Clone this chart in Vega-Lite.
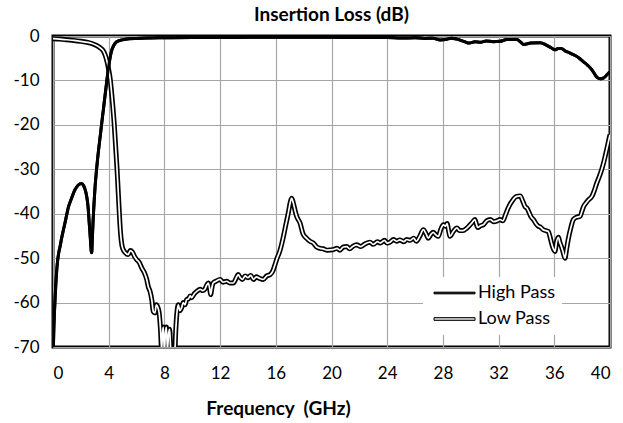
{
  "$schema": "https://vega.github.io/schema/vega-lite/v6.json",
  "width": 557,
  "height": 311,
  "autosize": {"type": "none"},
  "padding": {"left": 53, "top": 36, "right": 13, "bottom": 76},
  "background": "white",
  "title": {"text": "Insertion Loss (dB)", "font": "Lato", "fontSize": 19, "fontWeight": "bold", "color": "black", "anchor": "middle", "frame": "group", "offset": 2},
  "data": {"values": [
    {"s":"High Pass","f":0.02,"v":-71},{"s":"High Pass","f":0.06,"v":-66},{"s":"High Pass","f":0.1,"v":-62.5},{"s":"High Pass","f":0.15,"v":-59},{"s":"High Pass","f":0.2,"v":-56},{"s":"High Pass","f":0.3,"v":-51.5},{"s":"High Pass","f":0.4,"v":-49},{"s":"High Pass","f":0.5,"v":-47.5},{"s":"High Pass","f":0.62,"v":-45.5},{"s":"High Pass","f":0.75,"v":-43.6},{"s":"High Pass","f":0.9,"v":-41.5},{"s":"High Pass","f":1.0,"v":-40},{"s":"High Pass","f":1.1,"v":-38.6},{"s":"High Pass","f":1.3,"v":-36.8},{"s":"High Pass","f":1.58,"v":-34.6},{"s":"High Pass","f":1.8,"v":-33.6},{"s":"High Pass","f":2.05,"v":-33.2},{"s":"High Pass","f":2.2,"v":-33.7},{"s":"High Pass","f":2.33,"v":-34.8},{"s":"High Pass","f":2.42,"v":-36.1},{"s":"High Pass","f":2.52,"v":-38.5},{"s":"High Pass","f":2.6,"v":-42},{"s":"High Pass","f":2.68,"v":-45.5},{"s":"High Pass","f":2.75,"v":-48.5},{"s":"High Pass","f":2.78,"v":-48.8},{"s":"High Pass","f":2.82,"v":-46},{"s":"High Pass","f":2.88,"v":-41.5},{"s":"High Pass","f":2.95,"v":-37.5},{"s":"High Pass","f":3.02,"v":-34},{"s":"High Pass","f":3.1,"v":-31},{"s":"High Pass","f":3.25,"v":-26.3},{"s":"High Pass","f":3.4,"v":-22.3},{"s":"High Pass","f":3.5,"v":-19.6},{"s":"High Pass","f":3.62,"v":-16.5},{"s":"High Pass","f":3.73,"v":-13.6},{"s":"High Pass","f":3.83,"v":-11},{"s":"High Pass","f":3.93,"v":-8.4},{"s":"High Pass","f":4.05,"v":-5.8},{"s":"High Pass","f":4.2,"v":-3.4},{"s":"High Pass","f":4.35,"v":-2.2},{"s":"High Pass","f":4.57,"v":-1.3},{"s":"High Pass","f":4.85,"v":-0.95},{"s":"High Pass","f":5.2,"v":-0.75},{"s":"High Pass","f":6,"v":-0.55},{"s":"High Pass","f":7,"v":-0.45},{"s":"High Pass","f":8,"v":-0.4},{"s":"High Pass","f":10,"v":-0.35},{"s":"High Pass","f":12,"v":-0.35},{"s":"High Pass","f":14,"v":-0.3},{"s":"High Pass","f":16,"v":-0.3},{"s":"High Pass","f":18,"v":-0.3},{"s":"High Pass","f":20,"v":-0.3},{"s":"High Pass","f":22,"v":-0.35},{"s":"High Pass","f":24,"v":-0.35},{"s":"High Pass","f":25,"v":-0.45},{"s":"High Pass","f":26,"v":-0.4},{"s":"High Pass","f":26.7,"v":-0.55},{"s":"High Pass","f":27.3,"v":-0.5},{"s":"High Pass","f":27.8,"v":-0.9},{"s":"High Pass","f":28.2,"v":-0.8},{"s":"High Pass","f":28.6,"v":-0.5},{"s":"High Pass","f":29.0,"v":-0.7},{"s":"High Pass","f":29.5,"v":-1.2},{"s":"High Pass","f":29.9,"v":-1.6},{"s":"High Pass","f":30.3,"v":-1.3},{"s":"High Pass","f":30.7,"v":-1.4},{"s":"High Pass","f":31.1,"v":-1.1},{"s":"High Pass","f":31.6,"v":-1.3},{"s":"High Pass","f":32.1,"v":-1.2},{"s":"High Pass","f":32.6,"v":-0.8},{"s":"High Pass","f":33.0,"v":-0.8},{"s":"High Pass","f":33.3,"v":-0.8},{"s":"High Pass","f":33.6,"v":-1.4},{"s":"High Pass","f":33.8,"v":-1.9},{"s":"High Pass","f":34.3,"v":-1.6},{"s":"High Pass","f":35.0,"v":-1.5},{"s":"High Pass","f":35.4,"v":-2.0},{"s":"High Pass","f":35.8,"v":-2.7},{"s":"High Pass","f":36.05,"v":-3.1},{"s":"High Pass","f":36.3,"v":-2.8},{"s":"High Pass","f":36.5,"v":-2.8},{"s":"High Pass","f":36.8,"v":-3.4},{"s":"High Pass","f":37.1,"v":-3.8},{"s":"High Pass","f":37.5,"v":-4.4},{"s":"High Pass","f":37.8,"v":-5.0},{"s":"High Pass","f":38.1,"v":-5.8},{"s":"High Pass","f":38.4,"v":-6.6},{"s":"High Pass","f":38.7,"v":-7.6},{"s":"High Pass","f":38.9,"v":-8.6},{"s":"High Pass","f":39.1,"v":-9.4},{"s":"High Pass","f":39.3,"v":-9.6},{"s":"High Pass","f":39.5,"v":-9.5},{"s":"High Pass","f":39.7,"v":-9.0},{"s":"High Pass","f":39.85,"v":-8.5},{"s":"High Pass","f":40.0,"v":-8.1},
    {"s":"Low Pass","f":0,"v":-0.6},{"s":"Low Pass","f":0.5,"v":-0.7},{"s":"Low Pass","f":1,"v":-0.85},{"s":"Low Pass","f":1.5,"v":-1.0},{"s":"Low Pass","f":2,"v":-1.2},{"s":"Low Pass","f":2.5,"v":-1.45},{"s":"Low Pass","f":2.8,"v":-1.7},{"s":"Low Pass","f":3.1,"v":-2.1},{"s":"Low Pass","f":3.4,"v":-2.7},{"s":"Low Pass","f":3.6,"v":-3.3},{"s":"Low Pass","f":3.75,"v":-4.3},{"s":"Low Pass","f":3.9,"v":-6.0},{"s":"Low Pass","f":4.0,"v":-7.6},{"s":"Low Pass","f":4.1,"v":-9.5},{"s":"Low Pass","f":4.2,"v":-12.5},{"s":"Low Pass","f":4.3,"v":-16},{"s":"Low Pass","f":4.4,"v":-20},{"s":"Low Pass","f":4.5,"v":-25},{"s":"Low Pass","f":4.6,"v":-30},{"s":"Low Pass","f":4.7,"v":-36},{"s":"Low Pass","f":4.8,"v":-42},{"s":"Low Pass","f":4.9,"v":-46},{"s":"Low Pass","f":5.0,"v":-47.8},{"s":"Low Pass","f":5.2,"v":-48.8},{"s":"Low Pass","f":5.4,"v":-49.2},{"s":"Low Pass","f":5.55,"v":-48.3},{"s":"Low Pass","f":5.7,"v":-48.6},{"s":"Low Pass","f":5.85,"v":-49.6},{"s":"Low Pass","f":6.0,"v":-50.3},{"s":"Low Pass","f":6.2,"v":-51.0},{"s":"Low Pass","f":6.37,"v":-52.2},{"s":"Low Pass","f":6.55,"v":-53.2},{"s":"Low Pass","f":6.73,"v":-54.8},{"s":"Low Pass","f":6.85,"v":-56.5},{"s":"Low Pass","f":6.97,"v":-57.5},{"s":"Low Pass","f":7.1,"v":-59.5},{"s":"Low Pass","f":7.2,"v":-62.0},{"s":"Low Pass","f":7.32,"v":-62.3},{"s":"Low Pass","f":7.42,"v":-60.5},{"s":"Low Pass","f":7.52,"v":-61.0},{"s":"Low Pass","f":7.63,"v":-62.5},{"s":"Low Pass","f":7.72,"v":-66},{"s":"Low Pass","f":7.8,"v":-70.5},{"s":"Low Pass","f":7.86,"v":-67},{"s":"Low Pass","f":7.92,"v":-65.5},{"s":"Low Pass","f":8.0,"v":-71},{"s":"Low Pass","f":8.07,"v":-67},{"s":"Low Pass","f":8.14,"v":-65.5},{"s":"Low Pass","f":8.22,"v":-70.5},{"s":"Low Pass","f":8.3,"v":-67},{"s":"Low Pass","f":8.38,"v":-66},{"s":"Low Pass","f":8.45,"v":-70.5},{"s":"Low Pass","f":8.55,"v":-72},{"s":"Low Pass","f":8.73,"v":-72},{"s":"Low Pass","f":8.82,"v":-66},{"s":"Low Pass","f":8.9,"v":-62.3},{"s":"Low Pass","f":9.0,"v":-60.5},{"s":"Low Pass","f":9.1,"v":-61.8},{"s":"Low Pass","f":9.23,"v":-61.2},{"s":"Low Pass","f":9.35,"v":-60},{"s":"Low Pass","f":9.48,"v":-60.5},{"s":"Low Pass","f":9.6,"v":-59.3},{"s":"Low Pass","f":9.72,"v":-59.2},{"s":"Low Pass","f":9.85,"v":-58.5},{"s":"Low Pass","f":9.96,"v":-58.9},{"s":"Low Pass","f":10.15,"v":-58},{"s":"Low Pass","f":10.32,"v":-57.5},{"s":"Low Pass","f":10.45,"v":-57.2},{"s":"Low Pass","f":10.56,"v":-57},{"s":"Low Pass","f":10.75,"v":-57.3},{"s":"Low Pass","f":10.9,"v":-57},{"s":"Low Pass","f":11.05,"v":-56},{"s":"Low Pass","f":11.15,"v":-55.6},{"s":"Low Pass","f":11.25,"v":-56.8},{"s":"Low Pass","f":11.32,"v":-58.2},{"s":"Low Pass","f":11.42,"v":-56.5},{"s":"Low Pass","f":11.5,"v":-55.6},{"s":"Low Pass","f":11.7,"v":-55.2},{"s":"Low Pass","f":12.0,"v":-54.8},{"s":"Low Pass","f":12.2,"v":-55.4},{"s":"Low Pass","f":12.47,"v":-55.2},{"s":"Low Pass","f":12.7,"v":-55.6},{"s":"Low Pass","f":12.95,"v":-55.6},{"s":"Low Pass","f":13.15,"v":-54.5},{"s":"Low Pass","f":13.3,"v":-53.7},{"s":"Low Pass","f":13.45,"v":-54.4},{"s":"Low Pass","f":13.6,"v":-54.8},{"s":"Low Pass","f":13.8,"v":-54.0},{"s":"Low Pass","f":14.0,"v":-54.4},{"s":"Low Pass","f":14.2,"v":-53.9},{"s":"Low Pass","f":14.4,"v":-54.8},{"s":"Low Pass","f":14.6,"v":-54.2},{"s":"Low Pass","f":14.8,"v":-54.5},{"s":"Low Pass","f":15.1,"v":-54.8},{"s":"Low Pass","f":15.35,"v":-54.0},{"s":"Low Pass","f":15.6,"v":-53.7},{"s":"Low Pass","f":15.8,"v":-52.8},{"s":"Low Pass","f":15.94,"v":-51.5},{"s":"Low Pass","f":16.06,"v":-50.3},{"s":"Low Pass","f":16.3,"v":-48.3},{"s":"Low Pass","f":16.5,"v":-45.8},{"s":"Low Pass","f":16.7,"v":-42.8},{"s":"Low Pass","f":16.9,"v":-39.8},{"s":"Low Pass","f":17.05,"v":-37.3},{"s":"Low Pass","f":17.14,"v":-36.5},{"s":"Low Pass","f":17.25,"v":-37.5},{"s":"Low Pass","f":17.4,"v":-39.5},{"s":"Low Pass","f":17.5,"v":-40.6},{"s":"Low Pass","f":17.74,"v":-42.1},{"s":"Low Pass","f":17.95,"v":-44.5},{"s":"Low Pass","f":18.2,"v":-45.5},{"s":"Low Pass","f":18.45,"v":-46.2},{"s":"Low Pass","f":18.7,"v":-46.6},{"s":"Low Pass","f":18.94,"v":-47.5},{"s":"Low Pass","f":19.2,"v":-47.8},{"s":"Low Pass","f":19.4,"v":-47.9},{"s":"Low Pass","f":19.7,"v":-48.2},{"s":"Low Pass","f":20.1,"v":-48.1},{"s":"Low Pass","f":20.4,"v":-47.8},{"s":"Low Pass","f":20.6,"v":-48.2},{"s":"Low Pass","f":20.85,"v":-47.5},{"s":"Low Pass","f":21.1,"v":-47.4},{"s":"Low Pass","f":21.3,"v":-47.9},{"s":"Low Pass","f":21.55,"v":-47.3},{"s":"Low Pass","f":21.8,"v":-47.0},{"s":"Low Pass","f":22.1,"v":-47.4},{"s":"Low Pass","f":22.4,"v":-46.8},{"s":"Low Pass","f":22.76,"v":-46.4},{"s":"Low Pass","f":23.0,"v":-46.9},{"s":"Low Pass","f":23.3,"v":-46.3},{"s":"Low Pass","f":23.5,"v":-46.6},{"s":"Low Pass","f":23.8,"v":-46.0},{"s":"Low Pass","f":24.0,"v":-46.6},{"s":"Low Pass","f":24.2,"v":-46.4},{"s":"Low Pass","f":24.45,"v":-45.8},{"s":"Low Pass","f":24.68,"v":-46.2},{"s":"Low Pass","f":24.9,"v":-45.9},{"s":"Low Pass","f":25.2,"v":-46.3},{"s":"Low Pass","f":25.4,"v":-45.8},{"s":"Low Pass","f":25.65,"v":-46.0},{"s":"Low Pass","f":25.9,"v":-45.5},{"s":"Low Pass","f":26.1,"v":-46.2},{"s":"Low Pass","f":26.35,"v":-45.0},{"s":"Low Pass","f":26.6,"v":-43.6},{"s":"Low Pass","f":26.8,"v":-44.6},{"s":"Low Pass","f":26.95,"v":-45.5},{"s":"Low Pass","f":27.15,"v":-44.6},{"s":"Low Pass","f":27.3,"v":-44.2},{"s":"Low Pass","f":27.5,"v":-44.8},{"s":"Low Pass","f":27.67,"v":-45.1},{"s":"Low Pass","f":27.85,"v":-43.5},{"s":"Low Pass","f":28.03,"v":-42.5},{"s":"Low Pass","f":28.2,"v":-42.8},{"s":"Low Pass","f":28.3,"v":-42.2},{"s":"Low Pass","f":28.42,"v":-44.0},{"s":"Low Pass","f":28.5,"v":-45.1},{"s":"Low Pass","f":28.75,"v":-44.0},{"s":"Low Pass","f":29.0,"v":-43.2},{"s":"Low Pass","f":29.2,"v":-43.8},{"s":"Low Pass","f":29.45,"v":-43.8},{"s":"Low Pass","f":29.7,"v":-43.3},{"s":"Low Pass","f":29.95,"v":-42.5},{"s":"Low Pass","f":30.1,"v":-42.0},{"s":"Low Pass","f":30.3,"v":-41.3},{"s":"Low Pass","f":30.42,"v":-42.5},{"s":"Low Pass","f":30.5,"v":-43.1},{"s":"Low Pass","f":30.7,"v":-42.7},{"s":"Low Pass","f":30.9,"v":-42.5},{"s":"Low Pass","f":31.15,"v":-41.6},{"s":"Low Pass","f":31.4,"v":-41.3},{"s":"Low Pass","f":31.65,"v":-41.8},{"s":"Low Pass","f":31.9,"v":-41.6},{"s":"Low Pass","f":32.1,"v":-41.3},{"s":"Low Pass","f":32.3,"v":-41.6},{"s":"Low Pass","f":32.5,"v":-40.2},{"s":"Low Pass","f":32.65,"v":-39.0},{"s":"Low Pass","f":32.8,"v":-38.0},{"s":"Low Pass","f":33.0,"v":-37.0},{"s":"Low Pass","f":33.3,"v":-36.1},{"s":"Low Pass","f":33.55,"v":-36.0},{"s":"Low Pass","f":33.75,"v":-37.3},{"s":"Low Pass","f":33.9,"v":-38.4},{"s":"Low Pass","f":34.05,"v":-38.8},{"s":"Low Pass","f":34.2,"v":-39.8},{"s":"Low Pass","f":34.35,"v":-40.8},{"s":"Low Pass","f":34.5,"v":-41.3},{"s":"Low Pass","f":34.7,"v":-42.3},{"s":"Low Pass","f":34.85,"v":-42.8},{"s":"Low Pass","f":35.0,"v":-43.0},{"s":"Low Pass","f":35.2,"v":-43.6},{"s":"Low Pass","f":35.4,"v":-43.8},{"s":"Low Pass","f":35.57,"v":-44.0},{"s":"Low Pass","f":35.7,"v":-45.3},{"s":"Low Pass","f":35.8,"v":-46.6},{"s":"Low Pass","f":35.92,"v":-47.8},{"s":"Low Pass","f":36.05,"v":-48.5},{"s":"Low Pass","f":36.15,"v":-46.5},{"s":"Low Pass","f":36.3,"v":-45.3},{"s":"Low Pass","f":36.4,"v":-46.5},{"s":"Low Pass","f":36.5,"v":-47.3},{"s":"Low Pass","f":36.62,"v":-48.5},{"s":"Low Pass","f":36.77,"v":-50.0},{"s":"Low Pass","f":36.88,"v":-48.0},{"s":"Low Pass","f":37.0,"v":-45.8},{"s":"Low Pass","f":37.2,"v":-43.0},{"s":"Low Pass","f":37.37,"v":-41.3},{"s":"Low Pass","f":37.6,"v":-40.8},{"s":"Low Pass","f":37.85,"v":-40.6},{"s":"Low Pass","f":38.0,"v":-39.3},{"s":"Low Pass","f":38.1,"v":-38.4},{"s":"Low Pass","f":38.3,"v":-37.5},{"s":"Low Pass","f":38.45,"v":-36.9},{"s":"Low Pass","f":38.7,"v":-36.1},{"s":"Low Pass","f":38.85,"v":-35.0},{"s":"Low Pass","f":39.05,"v":-33.1},{"s":"Low Pass","f":39.25,"v":-31.5},{"s":"Low Pass","f":39.4,"v":-30.1},{"s":"Low Pass","f":39.6,"v":-27.8},{"s":"Low Pass","f":39.76,"v":-25.6},{"s":"Low Pass","f":39.9,"v":-23.6},{"s":"Low Pass","f":40.0,"v":-22.2}
  ]},
  "encoding": {
    "x": {"field": "f", "type": "quantitative", "scale": {"domain": [0, 40], "nice": false, "zero": false},
      "axis": {"values": [0,4,8,12,16,20,24,28,32,36,40], "title": "Frequency\u00a0 (GHz)", "titleX": 225, "titleY": 61, "titleBaseline": "middle", "titleAnchor": "middle", "titleAlign": "center", "labelPadding": 18}},
    "y": {"field": "v", "type": "quantitative", "scale": {"domain": [-70, 0], "nice": false, "zero": false},
      "axis": {"values": [-70,-60,-50,-40,-30,-20,-10,0], "title": null, "labelPadding": 14,
        "labelExpr": "datum.value < 0 ? '-' + abs(datum.value) : '' + datum.value"}}
  },
  "layer": [
    {
      "mark": {"type": "line", "clip": true, "strokeWidth": 3, "strokeJoin": "round", "interpolate": "monotone"},
      "encoding": {
        "color": {"field": "s", "type": "nominal", "scale": {"domain": ["High Pass", "Low Pass"], "range": ["#000000", "#000000"]},
          "legend": {"orient": "none", "legendX": 370, "legendY": 241, "title": null, "fillColor": "white", "padding": 7,
            "labelFont": "Lato", "labelFontSize": 18, "labelColor": "black", "symbolSize": 100, "labelOffset": 30, "rowPadding": 8,
            "symbolType": "M-1,-0.25H7.2V0.25H-1Z",
            "encode": {"symbols": {"update": {
              "shape": {"signal": "datum.value === 'Low Pass' ? 'M-1,-0.27H7.2V0.27H-1Z' : 'M-1,-0.17H7.2V0.17H-1Z'"},
              "fill": {"signal": "datum.value === 'Low Pass' ? '#d0d0d0' : '#000000'"},
              "stroke": {"value": "#000000"},
              "strokeWidth": {"value": 1},
              "opacity": {"value": 1}
            }}}}}
      }
    },
    {
      "transform": [{"filter": "datum.s === 'Low Pass'"}],
      "mark": {"type": "line", "clip": true, "color": "black", "strokeWidth": 5, "strokeJoin": "round", "interpolate": "monotone"},
      "encoding": {}
    },
    {
      "transform": [{"filter": "datum.s === 'Low Pass'"}],
      "mark": {"type": "line", "clip": true, "color": "white", "strokeWidth": 1.7, "strokeJoin": "round", "interpolate": "monotone"},
      "encoding": {}
    },
    {
      "transform": [{"filter": "datum.s === 'High Pass'"}],
      "mark": {"type": "line", "clip": true, "color": "black", "strokeWidth": 3, "strokeJoin": "round", "interpolate": "monotone"},
      "encoding": {}
    }
  ],
  "config": {
    "font": "Lato",
    "view": {"stroke": "#000000", "strokeWidth": 3},
    "axis": {"domain": false, "ticks": false, "grid": true, "gridColor": "#a6a6a6", "gridWidth": 1.2, "labelFont": "Lato", "labelFontSize": 17, "labelColor": "#000000", "titleFont": "Lato", "titleFontSize": 19, "titleFontWeight": "bold", "titleColor": "#000000"}
  }
}
